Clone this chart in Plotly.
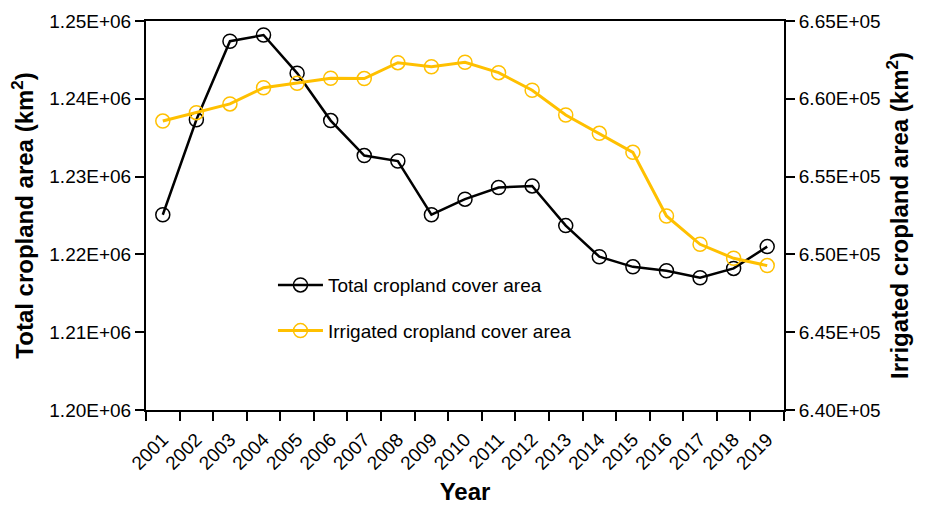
import plotly.graph_objects as go

years = [str(y) for y in range(2001, 2020)]

total_area = [
    1225100, 1237300, 1247400, 1248200, 1243300, 1237200, 1232700, 1232000,
    1225100, 1227100, 1228600, 1228800, 1223700, 1219700, 1218400, 1217900,
    1217000, 1218200, 1221000,
]
irrigated_area = [
    658570, 659110, 659670, 660710, 661000, 661320, 661300, 662320,
    662060, 662350, 661680, 660550, 658960, 657780, 656560, 652470,
    650650, 649750, 649280,
]

left_ticks = [1200000, 1210000, 1220000, 1230000, 1240000, 1250000]
left_labels = ["1.20E+06", "1.21E+06", "1.22E+06", "1.23E+06", "1.24E+06", "1.25E+06"]
right_ticks = [640000, 645000, 650000, 655000, 660000, 665000]
right_labels = ["6.40E+05", "6.45E+05", "6.50E+05", "6.55E+05", "6.60E+05", "6.65E+05"]

FONT = "Liberation Sans, Arial, sans-serif"
YELLOW = "#FFC000"

fig = go.Figure()

fig.add_trace(
    go.Scatter(
        x=years,
        y=total_area,
        mode="lines+markers",
        name="Total cropland cover area",
        legendgroup="total",
        line=dict(color="black", width=2.5),
        marker=dict(symbol="circle-open", size=14, color="black", line=dict(width=1.5)),
        yaxis="y",
    )
)
fig.add_trace(
    go.Scatter(
        x=years,
        y=irrigated_area,
        mode="lines+markers",
        name="Irrigated cropland cover area",
        legendgroup="irrigated",
        line=dict(color=YELLOW, width=3),
        marker=dict(symbol="circle-open", size=14, color=YELLOW, line=dict(width=1.5)),
        yaxis="y2",
    )
)

# the page body has an 8px margin, so the figure is shifted by 8px;
# margins compensate so the plot box lands where the reference has it
axis_common = dict(
    ticks="outside",
    ticklen=9,
    tickwidth=2,
    tickcolor="black",
    showline=True,
    linecolor="black",
    linewidth=2,
    showgrid=False,
    zeroline=False,
    automargin=False,
    tickfont=dict(size=19),
)

fig.update_layout(
    width=930,
    height=506,
    margin=dict(l=138, r=154, t=13, b=104),
    plot_bgcolor="white",
    paper_bgcolor="white",
    font=dict(family=FONT, size=19, color="black"),
    showlegend=True,
    legend=dict(
        x=0.199,
        y=0.37,
        xanchor="left",
        yanchor="top",
        bgcolor="rgba(0,0,0,0)",
        font=dict(size=19),
        tracegroupgap=18,
        itemwidth=45,
    ),
    xaxis=dict(
        type="category",
        range=[-0.5, 18.5],
        tickson="boundaries",
        tickangle=-45,
        ticklabelstandoff=9,
        mirror=True,
        title=dict(text="<b>Year</b>", font=dict(size=24), standoff=10),
        **axis_common,
    ),
    yaxis=dict(
        range=[1200000, 1250000],
        tickvals=left_ticks,
        ticktext=left_labels,
        title=dict(text="<b>Total cropland area (km<sup>2</sup>)</b>", font=dict(size=24), standoff=10),
        **axis_common,
    ),
    yaxis2=dict(
        range=[640000, 665000],
        overlaying="y",
        side="right",
        tickvals=right_ticks,
        ticktext=right_labels,
        title=dict(text="<b>Irrigated cropland area (km<sup>2</sup>)</b>", font=dict(size=24), standoff=12),
        **axis_common,
    ),
)

fig.write_html("out.html")
